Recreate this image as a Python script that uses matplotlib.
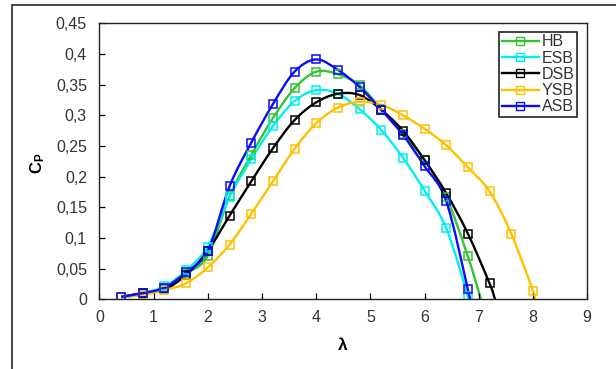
import numpy as np
import matplotlib

matplotlib.use('Agg')

import matplotlib.pyplot as plt
from matplotlib.path import Path
from matplotlib.patches import PathPatch, Rectangle
from matplotlib.lines import Line2D

plt.rcParams['font.family'] = ['Liberation Sans', 'DejaVu Sans']
plt.rcParams['mathtext.fontset'] = 'custom'
plt.rcParams['mathtext.rm'] = 'Liberation Sans'
plt.rcParams['mathtext.bf'] = 'Liberation Sans:bold'

# tip speed ratio and power coefficient
lam = [0.4, 0.8, 1.2, 1.6, 2.0, 2.4, 2.8, 3.2, 3.6, 4.0, 4.4, 4.8, 5.2, 5.6, 6.0,
       6.4, 6.8, 7.2, 7.6, 8.0]

hb = [0.003, 0.008, 0.018, 0.042, 0.071, 0.168, 0.235, 0.295, 0.344, 0.371,
      0.367, 0.349, 0.310, 0.270, 0.227, 0.167, 0.070]
esb = [0.003, 0.010, 0.021, 0.047, 0.086, 0.167, 0.228, 0.282, 0.323, 0.341,
       0.335, 0.310, 0.276, 0.231, 0.177, 0.116, 0.005]
dsb = [0.004, 0.010, 0.016, 0.040, 0.079, 0.136, 0.192, 0.246, 0.292, 0.321,
       0.335, 0.333, 0.309, 0.275, 0.227, 0.173, 0.107, 0.026]
ysb = [0.004, 0.007, 0.015, 0.026, 0.052, 0.089, 0.139, 0.192, 0.245, 0.287,
       0.3125, 0.322, 0.317, 0.300, 0.278, 0.251, 0.215, 0.176, 0.107, 0.014]
asb = [0.004, 0.010, 0.019, 0.044, 0.079, 0.184, 0.255, 0.318, 0.371, 0.391,
       0.374, 0.346, 0.309, 0.268, 0.217, 0.160, 0.016]

# where each curve reaches Cp = 0
hb_end = 7.04
esb_end = 6.79
dsb_end = 7.30
ysb_end = 8.02
asb_end = 6.83

names = ['HB', 'ESB', 'DSB', 'YSB', 'ASB']
colors = ['#33c433', '#00f0f0', '#000000', '#ffc000', '#0a0aff']

yticks = [0, 0.05, 0.1, 0.15, 0.2, 0.25, 0.3, 0.35, 0.4, 0.45]
ytick_labels = ['0', '0,05', '0,1', '0,15', '0,2', '0,25', '0,3', '0,35', '0,4', '0,45']
xticks = [0, 1, 2, 3, 4, 5, 6, 7, 8, 9]


def smooth_path(xs, ys):
    # Bezier segments through the points, like a spreadsheet "smoothed line"
    p = np.column_stack([xs, ys])
    n = len(p)
    verts = [p[0]]
    codes = [Path.MOVETO]
    for i in range(n - 1):
        p0 = p[i - 1] if i > 0 else p[i]
        p3 = p[i + 2] if i + 2 < n else p[i + 1]
        c1 = p[i] + (p[i + 1] - p0) / 6.0
        c2 = p[i + 1] - (p3 - p[i]) / 6.0
        verts += [c1, c2, p[i + 1]]
        codes += [Path.CURVE4] * 3
    return Path(verts, codes)


fig = plt.figure(figsize=(6.16, 3.69), dpi=100)
ax = fig.add_axes([0.1615, 0.189, 0.7915, 0.748])

series = [(hb, hb_end), (esb, esb_end), (dsb, dsb_end), (ysb, ysb_end), (asb, asb_end)]
handles = []
for (vals, end), name, col in zip(series, names, colors):
    xs = lam[:len(vals)] + [end]
    ys = vals + [0.0]
    ax.add_patch(PathPatch(smooth_path(xs, ys), facecolor='none', edgecolor=col,
                           lw=1.7, capstyle='butt'))
    ax.plot(lam[:len(vals)], vals, ls='none', marker='s', ms=6, mfc='none',
            mec=col, mew=1.1)
    handles.append(Line2D([], [], color=col, lw=1.7, marker='s', ms=5.5,
                          mfc='none', mec=col, mew=1.0))

ax.set_xlim(0, 9)
ax.set_ylim(0, 0.45)
ax.set_xticks(xticks)
ax.set_yticks(yticks)
ax.set_yticklabels(ytick_labels)
ax.tick_params(direction='in', length=4, width=0.9, labelsize=11.5,
               labelcolor='#333333')
ax.tick_params(axis='y', pad=9)
ax.tick_params(axis='x', pad=8)
for sp in ax.spines.values():
    sp.set_linewidth(1.0)
    sp.set_color('#222222')

leg = ax.legend(handles, names, loc='upper right', bbox_to_anchor=(0.9795, 0.9685),
                fontsize=11.5, frameon=True, fancybox=False, edgecolor='#222222',
                framealpha=1, borderpad=0.15, labelspacing=0.08, handlelength=2.3,
                handletextpad=0.2, borderaxespad=0)
leg.get_frame().set_linewidth(1.2)
for t in leg.get_texts():
    t.set_color('#333333')

fig.text(38 / 616, 1 - 163 / 369, r'$\mathbf{C_P}$', rotation=90, fontsize=12,
         ha='center', va='center')
fig.text(343 / 616, 1 - 345 / 369, 'λ', fontsize=12.5, fontweight='bold',
         ha='center', va='center')

# outer frame of the picture
fig.patches.append(Rectangle((11.5 / 616, -0.2), 1.2, 1.2 - 5 / 369,
                             transform=fig.transFigure, fill=False,
                             edgecolor='#3a3a3a', lw=1.3))

fig.savefig('out.png', dpi=100)
